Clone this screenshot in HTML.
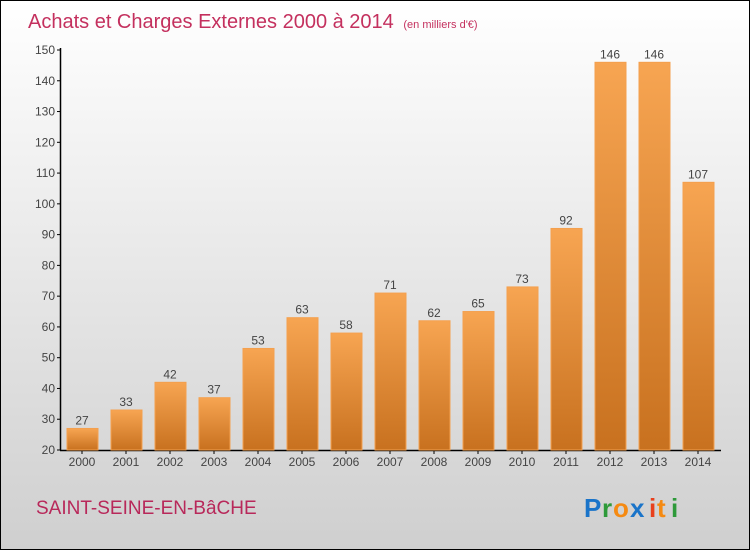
<!DOCTYPE html>
<html><head><meta charset="utf-8">
<style>
html,body{margin:0;padding:0}
body{width:750px;height:550px;overflow:hidden;font-family:"Liberation Sans",sans-serif}
#wrap{position:relative;width:748px;height:548px;border:1px solid #000;background:linear-gradient(#ffffff,#cfcfcf)}
svg{position:absolute;left:0;top:0}
</style></head><body>
<div id="wrap">
<svg id="chart" width="748" height="548">
<defs>
<linearGradient id="bg" x1="0" y1="0" x2="0" y2="1">
<stop offset="0" stop-color="#f7a552"/><stop offset="1" stop-color="#c8711f"/>
</linearGradient>
</defs>
<text x="27" y="27" font-size="20" fill="#c4305e">Achats et Charges Externes 2000 à 2014 <tspan font-size="11" dx="4">(en milliers d'€)</tspan></text>
<text x="35" y="513" font-size="19" fill="#b8285a">SAINT-SEINE-EN-BâCHE</text>
<g font-size="26" font-weight="bold" font-family="'Liberation Sans',sans-serif">
<text x="583" y="516" fill="#1a74c9">P</text><text x="601" y="516" fill="#2e9a3a">r</text><text x="612" y="516" fill="#f58a12">o</text><text x="629" y="516" fill="#1a74c9">x</text><text x="648" y="516" fill="#e8401c">i</text><text x="656" y="516" fill="#f58a12">t</text><text x="670" y="516" fill="#2e9a3a">i</text>
</g>
<g id="axes"></g>
<g id="bars"></g>
</svg>
</div>
<script>
const categories=["2000","2001","2002","2003","2004","2005","2006","2007","2008","2009","2010","2011","2012","2013","2014"];
const values=[27,33,42,37,53,63,58,71,62,65,73,92,146,146,107];
const yTicks=[20,30,40,50,60,70,80,90,100,110,120,130,140,150];
const NS="http://www.w3.org/2000/svg";
const y0=449,y1=49,vmin=20,vmax=150;
function yScale(v){return y0-(v-vmin)/(vmax-vmin)*(y0-y1);}
function xScale(i){return 81+i*44;}
function mk(tag,attrs,parent){const e=document.createElementNS(NS,tag);for(const k in attrs)e.setAttribute(k,attrs[k]);parent.appendChild(e);return e;}
const axes=document.getElementById('axes'),bars=document.getElementById('bars');
let a=mk('line',{x1:59.5,y1:y1-2,x2:59.5,y2:y0,stroke:'#000','stroke-width':1.5},axes);


let b=mk('line',{x1:59,y1:y0+0.5,x2:720,y2:y0+0.5,stroke:'#000','stroke-width':1.5},axes);


yTicks.forEach(t=>{
 const y=yScale(t);
 mk('line',{x1:56,y1:y,x2:60,y2:y,stroke:'#000'},axes);
 const tx=mk('text',{x:54,y:y+4,'font-size':12,fill:'#444','text-anchor':'end'},axes);
 tx.textContent=t;
 
 
});
categories.forEach((c,i)=>{
 const cx=xScale(i),v=values[i],top=yScale(v);
 mk('line',{x1:cx,y1:y0,x2:cx,y2:y0+4,stroke:'#000'},axes);
 const lx=mk('text',{x:cx,y:y0+16,'font-size':12,fill:'#444','text-anchor':'middle'},axes);
 lx.textContent=c;
 
 
 const r=mk('rect',{x:cx-15,y:top,width:31,height:y0-top,fill:'url(#bg)',stroke:'#f4a04e','stroke-width':1},bars);
 
 
 const vl=mk('text',{x:cx,y:top-4,'font-size':12,fill:'#444','text-anchor':'middle'},bars);
 vl.textContent=v;
 
 
});
</script>
</body></html>
